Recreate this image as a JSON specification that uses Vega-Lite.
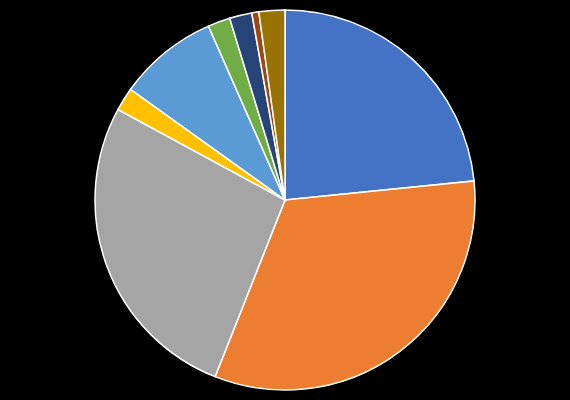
{
  "$schema": "https://vega.github.io/schema/vega-lite/v6.json",
  "width": 570,
  "height": 400,
  "autosize": {"type": "fit", "contains": "padding"},
  "background": "#000000",
  "padding": 5,
  "view": {"stroke": null},
  "data": {
    "values": [
      {"category": "A", "value": 23.4, "order": 1},
      {"category": "B", "value": 32.6, "order": 2},
      {"category": "C", "value": 26.9, "order": 3},
      {"category": "D", "value": 2.0, "order": 4},
      {"category": "E", "value": 8.5, "order": 5},
      {"category": "F", "value": 1.9, "order": 6},
      {"category": "G", "value": 1.9, "order": 7},
      {"category": "H", "value": 0.6, "order": 8},
      {"category": "I", "value": 2.2, "order": 9}
    ]
  },
  "mark": {"type": "arc", "outerRadius": 190, "stroke": "#ffffff", "strokeWidth": 1.5},
  "encoding": {
    "theta": {"field": "value", "type": "quantitative", "stack": true},
    "order": {"field": "order", "type": "quantitative"},
    "color": {
      "field": "category",
      "type": "nominal",
      "legend": null,
      "scale": {
        "domain": ["A", "B", "C", "D", "E", "F", "G", "H", "I"],
        "range": ["#4472C4", "#ED7D31", "#A5A5A5", "#FFC000", "#5B9BD5", "#70AD47", "#264478", "#9E480E", "#997300"]
      }
    }
  }
}
